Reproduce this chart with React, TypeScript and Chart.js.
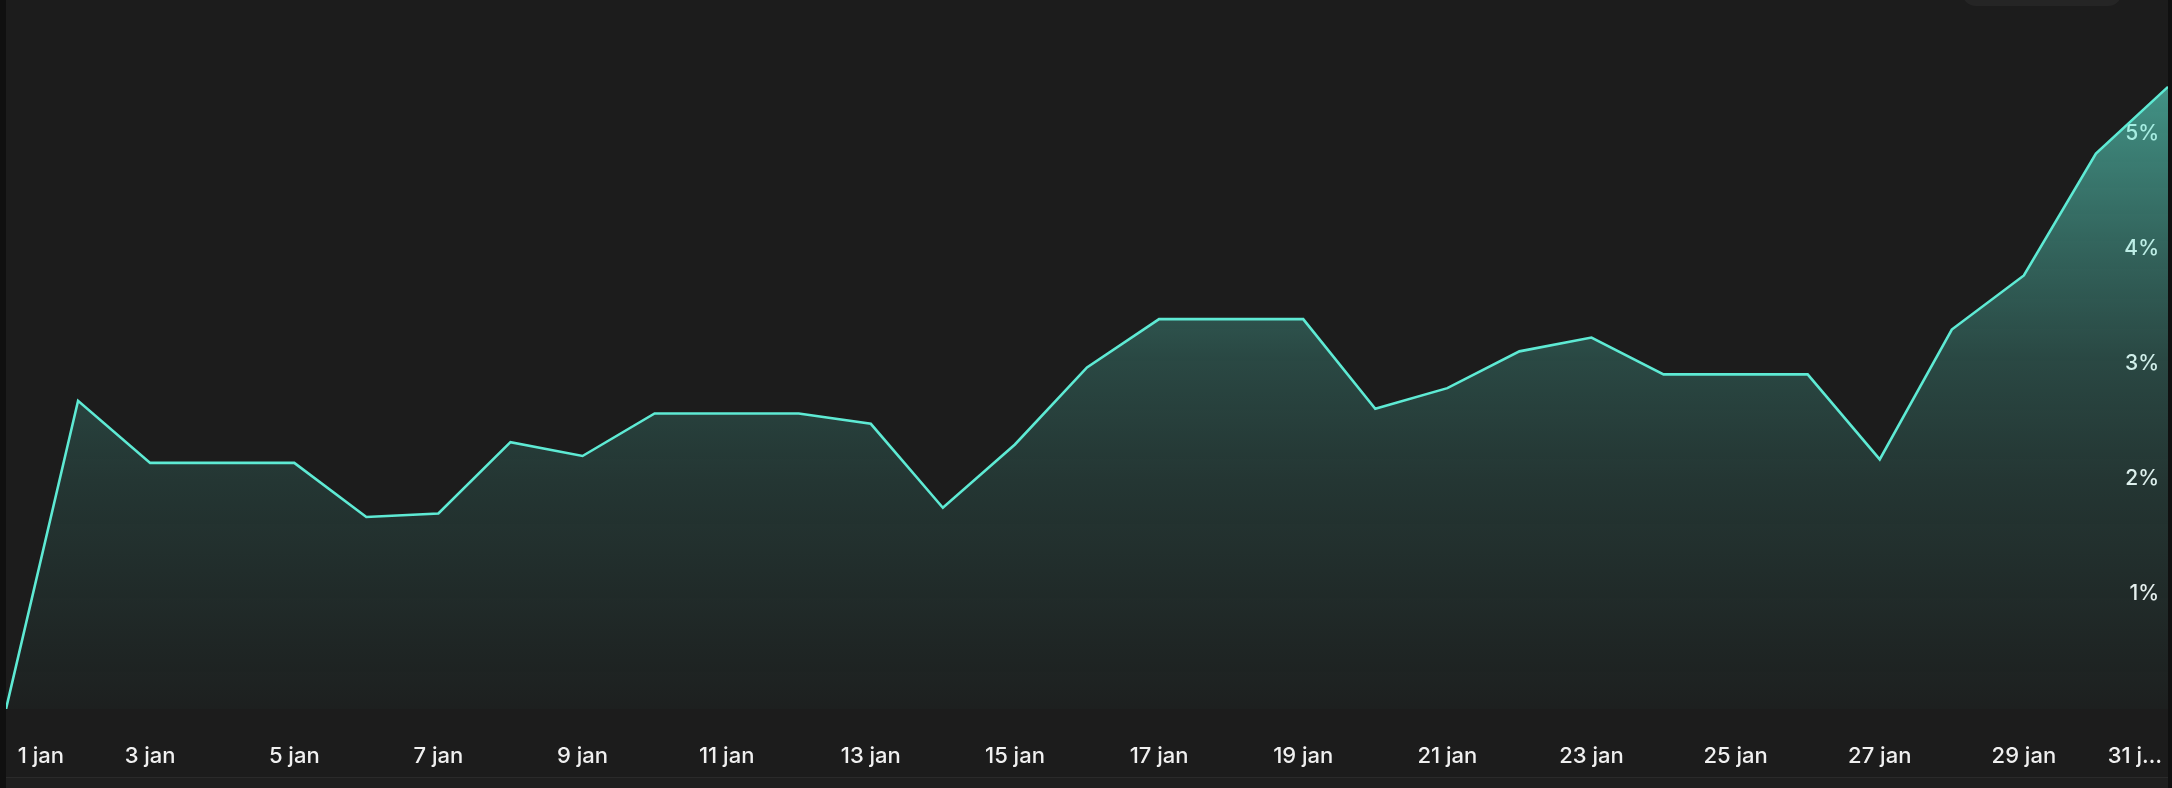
import React, { useEffect, useRef } from "react";
import { Chart, registerables } from "chart.js";

Chart.register(...registerables);

const categories = [
  "1 jan", "2 jan", "3 jan", "4 jan", "5 jan", "6 jan", "7 jan", "8 jan",
  "9 jan", "10 jan", "11 jan", "12 jan", "13 jan", "14 jan", "15 jan", "16 jan",
  "17 jan", "18 jan", "19 jan", "20 jan", "21 jan", "22 jan", "23 jan", "24 jan",
  "25 jan", "26 jan", "27 jan", "28 jan", "29 jan", "30 jan", "31 jan",
];

const values = [
  0, 2.68, 2.14, 2.14, 2.14, 1.67, 1.7, 2.32,
  2.2, 2.57, 2.57, 2.57, 2.48, 1.75, 2.3, 2.97,
  3.39, 3.39, 3.39, 2.61, 2.79, 3.11, 3.23, 2.91,
  2.91, 2.91, 2.17, 3.3, 3.77, 4.83, 5.41,
];

const lastLabelText = "31 j…";
const yMin = 0;
const yMax = 6;

const LINE = "rgb(94, 234, 212)";
const TEXT = "#f0f0f0";
const FAMILY = "Inter, 'Noto Sans', sans-serif";
const X_FONT_SIZE = 22;
const X_PAD = 34;

export default function App() {
  const ref = useRef<HTMLCanvasElement>(null);

  useEffect(() => {
    if (!ref.current) return;
    const chart = new Chart(ref.current, {
      type: "line",
      data: {
        labels: categories,
        datasets: [
          {
            data: values,
            borderColor: LINE,
            borderWidth: 2.6,
            pointRadius: 0,
            pointHoverRadius: 0,
            tension: 0,
            fill: "origin",
            backgroundColor: (ctx: any) => {
              const c = ctx.chart;
              const { chartArea, scales } = c;
              if (!chartArea) return "transparent";
              const y0 = scales.y.getPixelForValue(0);
              const yTop = scales.y.getPixelForValue(Math.max(...values));
              const g = c.ctx.createLinearGradient(0, yTop, 0, y0);
              g.addColorStop(0, "rgba(94,234,212,0.58)");
              g.addColorStop(0.076, "rgba(94,234,212,0.5)");
              g.addColorStop(0.259, "rgba(94,234,212,0.35)");
              g.addColorStop(0.444, "rgba(94,234,212,0.21)");
              g.addColorStop(0.629, "rgba(94,234,212,0.13)");
              g.addColorStop(1, "rgba(94,234,212,0.02)");
              return g;
            },
          },
        ],
      },
      options: {
        animation: false,
        responsive: true,
        maintainAspectRatio: false,
        layout: { padding: { top: 19, bottom: 7.6, left: 0, right: 0 } },
        plugins: {
          legend: { display: false },
          tooltip: { enabled: false },
        },
        scales: {
          x: {
            type: "category",
            offset: false,
            grid: { display: false, drawTicks: false },
            border: { display: false },
            afterFit: (s: any) => {
              s.paddingLeft = 0;
              s.paddingRight = 0;
              s.height = X_PAD + X_FONT_SIZE * 1.2;
            },
            ticks: {
              autoSkip: false,
              maxRotation: 0,
              minRotation: 0,
              align: "inner",
              padding: X_PAD,
              color: TEXT,
              font: { family: FAMILY, size: X_FONT_SIZE, weight: 500 },
              callback: (_v: any, i: number) => {
                if (i === categories.length - 1) return lastLabelText + " ";
                if (i === 0) return "  " + categories[i];
                return i % 2 === 0 ? categories[i] : "";
              },
            },
          },
          y: {
            position: "right",
            min: yMin,
            max: yMax,
            grid: { display: false, drawTicks: false },
            border: { display: false },
            afterFit: (s: any) => {
              s.paddingTop = 0;
              s.paddingBottom = 0;
              s.width = 0;
            },
            ticks: {
              mirror: true,
              stepSize: 1,
              padding: -9,
              color: TEXT,
              font: { family: FAMILY, size: 21, weight: 500 },
              callback: (v: any) => (v === yMin || v === yMax ? "" : `${v}%`),
            },
          },
        },
      },
    });
    return () => chart.destroy();
  }, []);

  return (
    <div
      style={{
        position: "fixed",
        left: 0,
        top: 0,
        width: 2172,
        height: 788,
        background: "#101010",
        overflow: "hidden",
      }}
    >
      <div
        style={{
          position: "absolute",
          left: 6,
          top: 0,
          width: 2162,
          height: 777,
          background: "#1c1c1c",
        }}
      >
        <div style={{ position: "relative", width: 2162, height: 777 }}>
          <canvas ref={ref} style={{ display: "block" }} />
        </div>
      </div>
      <div
        style={{
          position: "absolute",
          left: 1962,
          top: -30,
          width: 160,
          height: 36,
          borderRadius: 14,
          background: "#252525",
        }}
      />
      <div
        style={{
          position: "absolute",
          left: 6,
          top: 777,
          width: 2162,
          height: 11,
          background: "#1f1f1f",
          borderTop: "1px solid #2a2a2a",
        }}
      />
    </div>
  );
}
